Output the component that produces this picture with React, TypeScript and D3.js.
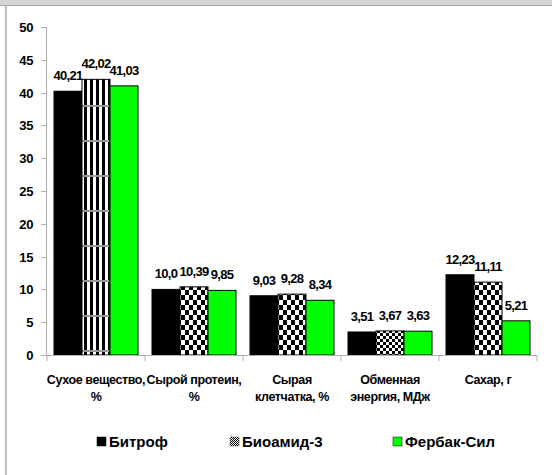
import React from "react";
import * as d3 from "d3";

const categories: string[][] = [
  ["Сухое вещество,", "%"],
  ["Сырой протеин,", "%"],
  ["Сырая", "клетчатка, %"],
  ["Обменная", "энергия, МДж"],
  ["Сахар, г"],
];
const seriesNames = ["Битроф", "Биоамид-3", "Фербак-Сил"];
const bitrof = [40.21, 10.0, 9.03, 3.51, 12.23];
const bioamid = [42.02, 10.39, 9.28, 3.67, 11.11];
const ferbak = [41.03, 9.85, 8.34, 3.63, 5.21];
const bitrofLabels = ["40,21", "10,0", "9,03", "3,51", "12,23"];
const bioamidLabels = ["42,02", "10,39", "9,28", "3,67", "11,11"];
const ferbakLabels = ["41,03", "9,85", "8,34", "3,63", "5,21"];
const bioamidPatterns = ["stripes", "checkTall", "checkTall", "checkFine", "checkTall"];
const yTicks = [0, 5, 10, 15, 20, 25, 30, 35, 40, 45, 50];

const W = 552;
const H = 475;
const FONT = "'Liberation Sans', Arial, sans-serif";

export default function App() {
  const x0 = d3.scaleBand<number>().domain(d3.range(categories.length)).range([47, 537]).paddingInner(0).paddingOuter(0);
  const x1 = d3.scaleBand<number>().domain([0, 1, 2]).range([0, x0.bandwidth()]).paddingInner(0).paddingOuter(0.25);
  const y = d3.scaleLinear().domain([0, 50]).range([355, 27]);

  const series = [
    { values: bitrof, labels: bitrofLabels, fill: () => "#000000" },
    { values: bioamid, labels: bioamidLabels, fill: (i: number) => `url(#${bioamidPatterns[i]})` },
    { values: ferbak, labels: ferbakLabels, fill: () => "#00ff00" },
  ];
  const legendX = [97, 230, 393];
  const legendFill = ["#000000", "url(#checkLegend)", "#00ff00"];

  return (
    <svg width={W} height={H} style={{ position: "absolute", left: 0, top: 0, background: "#fff" }}>
      <defs>
        <pattern id="stripes" patternUnits="userSpaceOnUse" width={6} height={35} x={82} y={0}>
          <rect width={6} height={35} fill="#fff" />
          <rect x={3} width={3} height={35} fill="#000" />
          <rect y={0} width={6} height={2} fill="#999" />
        </pattern>
        <pattern id="checkTall" patternUnits="userSpaceOnUse" width={8} height={10}>
          <rect width={8} height={10} fill="#fff" />
          <rect x={0} y={0} width={4} height={5} fill="#000" />
          <rect x={4} y={5} width={4} height={5} fill="#000" />
        </pattern>
        <pattern id="checkFine" patternUnits="userSpaceOnUse" width={6} height={6}>
          <rect width={6} height={6} fill="#fff" />
          <rect x={0} y={0} width={3} height={3} fill="#000" />
          <rect x={3} y={3} width={3} height={3} fill="#000" />
        </pattern>
        <pattern id="checkLegend" patternUnits="userSpaceOnUse" width={2} height={2}>
          <rect width={2} height={2} fill="#fff" />
          <rect width={1} height={1} fill="#000" />
          <rect x={1} y={1} width={1} height={1} fill="#000" />
        </pattern>
      </defs>

      {/* frame */}
      <rect x={0} y={0} width={W} height={5} fill="#d4d4d4" />
      <line x1={0} x2={W} y1={5.5} y2={5.5} stroke="#a8a8a8" strokeWidth={1} />
      <line x1={6} x2={6} y1={5} y2={H} stroke="#a8a8a8" strokeWidth={1.5} />

      {/* y axis */}
      <line x1={46.5} x2={46.5} y1={y(50)} y2={y(0)} stroke="#b0b0b0" />
      {yTicks.map((t) => (
        <g key={t}>
          <line x1={41} x2={46.5} y1={Math.round(y(t)) + 0.5} y2={Math.round(y(t)) + 0.5} stroke="#b0b0b0" />
          <text x={33} y={y(t) + 5} textAnchor="end" fontFamily={FONT} fontWeight="bold" fontSize={13} letterSpacing={-0.4} fill="#000">
            {t}
          </text>
        </g>
      ))}

      {/* bars */}
      {categories.map((_, ci) => (
        <g key={ci} transform={`translate(${x0(ci)},0)`}>
          {series.map((s, si) => (
            <g key={si}>
              <rect
                x={x1(si)}
                y={y(s.values[ci])}
                width={x1.bandwidth()}
                height={y(0) - y(s.values[ci])}
                fill={s.fill(ci)}
                stroke="#000"
                strokeWidth={1}
              />
              <text
                x={(x1(si) as number) + x1.bandwidth() / 2}
                y={y(s.values[ci]) - 11}
                textAnchor="middle"
                fontFamily={FONT}
                fontWeight="bold"
                fontSize={13}
                letterSpacing={-0.7}
                fill="#000"
              >
                {s.labels[ci]}
              </text>
            </g>
          ))}
        </g>
      ))}

      {/* x axis */}
      <line x1={46} x2={537} y1={355.5} y2={355.5} stroke="#b0b0b0" />
      {d3.range(categories.length + 1).map((i) => {
        const xx = 47 + i * x0.bandwidth();
        return <line key={i} x1={xx} x2={xx} y1={355} y2={361} stroke="#b0b0b0" />;
      })}
      {categories.map((lines, ci) => (
        <text key={ci} textAnchor="middle" fontFamily={FONT} fontWeight="bold" fontSize={12.5} letterSpacing={-0.4} fill="#000">
          {lines.map((ln, li) => (
            <tspan key={li} x={(x0(ci) as number) + x0.bandwidth() / 2} y={384 + li * 17}>
              {ln}
            </tspan>
          ))}
        </text>
      ))}

      {/* legend */}
      {seriesNames.map((n, i) => (
        <g key={n}>
          <rect x={legendX[i]} y={437} width={9} height={9} fill={legendFill[i]} stroke={i === 1 ? "#555" : "#000"} strokeWidth={0.5} />
          <text x={legendX[i] + 12} y={447} fontFamily={FONT} fontWeight="bold" fontSize={15} fill="#000">
            {n}
          </text>
        </g>
      ))}
    </svg>
  );
}
